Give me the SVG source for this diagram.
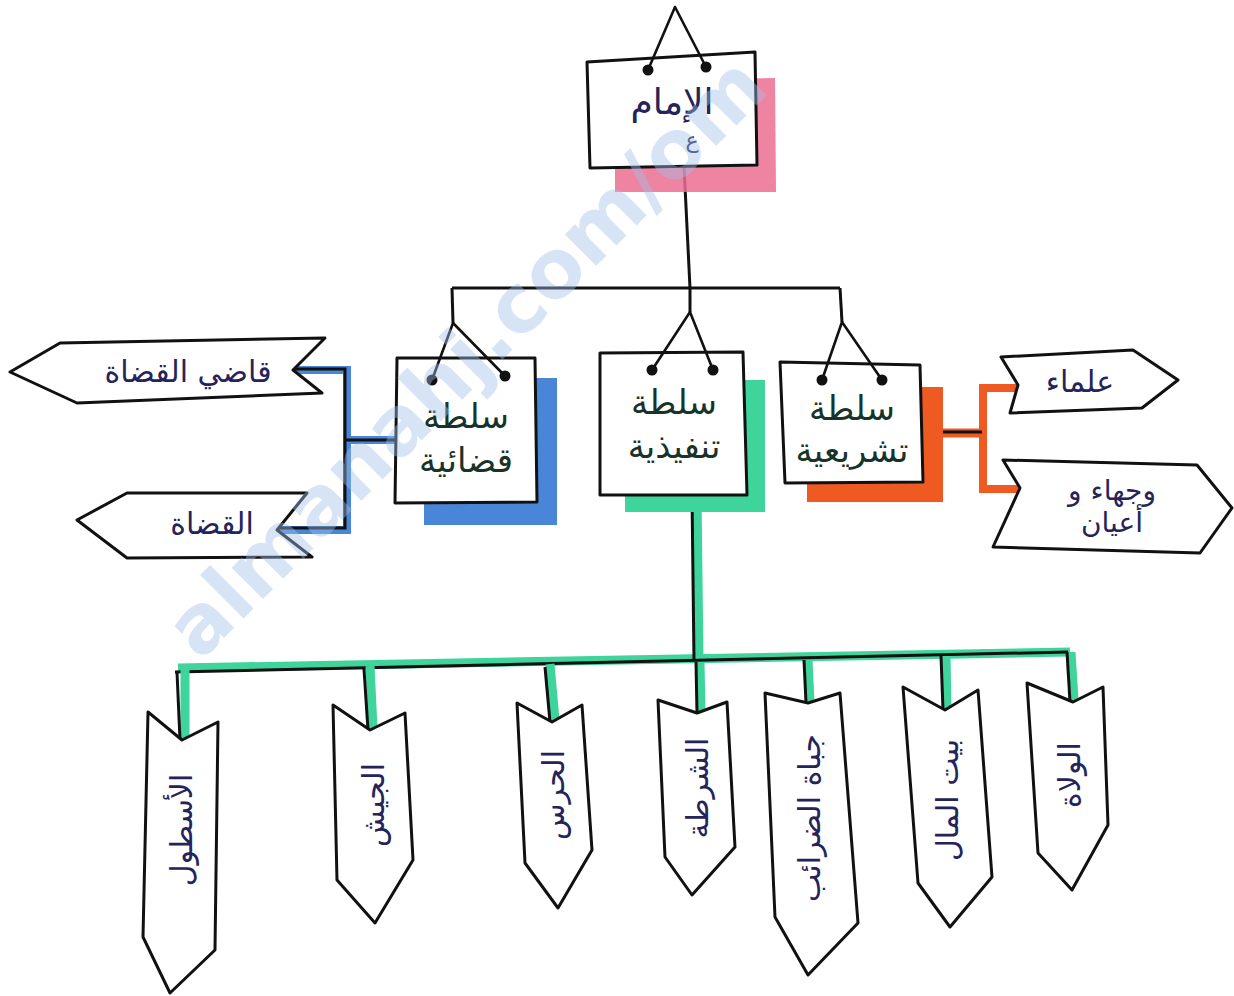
<svg xmlns="http://www.w3.org/2000/svg" width="1234" height="996" viewBox="0 0 1234 996">
<style>
.box{fill:#fff;stroke:#111;stroke-width:3;stroke-linejoin:round}
.tag{fill:#fff;stroke:#111;stroke-width:3;stroke-linejoin:round}
.hang{fill:none;stroke:#111;stroke-width:2.6;stroke-linejoin:round}
.dot{fill:#111}
.ln{fill:none;stroke:#111;stroke-width:3}
.lbl{font-family:"DejaVu Sans",sans-serif;fill:#24245a;text-anchor:middle}
.auth{font-family:"DejaVu Sans",sans-serif;fill:#17332a;text-anchor:middle;font-size:34px}
.wm{font-family:"DejaVu Sans",sans-serif;font-weight:bold;fill:#9fc0ea;opacity:0.42}
</style>
<rect width="1234" height="996" fill="#fff"/>

<g id="connectors">
  <polyline class="ln" points="684,166 690,288"/>
  <polyline class="ln" points="452,288 840,288"/>
  <polyline class="ln" points="452,288 453,323"/>
  <polyline class="ln" points="690,288 690,312"/>
  <polyline class="ln" points="840,288 842,322"/>
  <!-- blue bracket -->
  <polyline fill="none" stroke="#4a86d8" stroke-width="8" points="293,370 347,370 347,530 277,530"/>
  <polyline fill="none" stroke="#4a86d8" stroke-width="8" points="347,440 396,440"/>
  <polyline class="ln" stroke-width="2.4" points="293,369 345,369 345,528 277,528"/>
  <polyline class="ln" stroke-width="2.4" points="345,440 396,440"/>
  <!-- orange bracket -->
  <polyline fill="none" stroke="#ee5a22" stroke-width="8" points="1017,388 983,388 983,489 1018,489"/>
  <polyline fill="none" stroke="#ee5a22" stroke-width="9" points="923,433 983,433"/>
  <polyline class="ln" stroke-width="2.4" points="923,432 982,432"/>
  <!-- green tree -->
  <polyline fill="none" stroke="#3fd49b" stroke-width="9" points="697,495 699,660"/>
  <polyline fill="none" stroke="#3fd49b" stroke-width="9" points="178,668 1070,652"/>
  <polyline class="ln" points="692,495 694,660"/>
  <polyline class="ln" points="175,672 1068,652"/>
  <g fill="none" stroke="#3fd49b" stroke-width="9">
    <polyline points="185,668 185,738"/>
    <polyline points="370,666 373,728"/>
    <polyline points="550,664 555,720"/>
    <polyline points="700,662 701,712"/>
    <polyline points="808,660 810,702"/>
    <polyline points="946,656 947,708"/>
    <polyline points="1071,652 1074,700"/>
  </g>
  <g class="ln">
    <polyline points="177,672 180,740"/>
    <polyline points="364,669 368,730"/>
    <polyline points="545,667 550,722"/>
    <polyline points="696,662 697,713"/>
    <polyline points="804,660 806,703"/>
    <polyline points="941,656 943,710"/>
    <polyline points="1067,652 1070,702"/>
  </g>
</g>

<g id="imam">
  <polygon points="615,80 775,78 776,192 615,192" fill="#ec6f92" opacity="0.85"/>
  <polygon class="box" points="587,62 755,52 757,165 590,168"/>
  <polyline class="hang" points="648,70 675,7 706,67"/>
  <circle class="dot" cx="648" cy="70" r="5.5"/>
  <circle class="dot" cx="706" cy="67" r="5.5"/>
  <text class="lbl" x="672" y="114" font-size="36">الإمام</text>
  <text class="lbl" x="692" y="148" font-size="22">ع</text>
</g>

<g id="judicial">
  <polygon points="424,378 557,378 557,525 424,525" fill="#4a86d8"/>
  <polygon class="box" points="397,358 535,358 537,502 395,503"/>
  <polyline class="hang" points="432,380 453,323 505,376"/>
  <circle class="dot" cx="432" cy="380" r="5.5"/>
  <circle class="dot" cx="505" cy="376" r="5.5"/>
  <text class="auth" x="466" y="428">سلطة</text>
  <text class="auth" x="466" y="472">قضائية</text>
</g>

<g id="executive">
  <polygon points="625,380 765,380 765,512 625,512" fill="#3fd49b"/>
  <polygon class="box" points="600,353 743,352 747,495 600,495"/>
  <polyline class="hang" points="652,370 690,312 713,370"/>
  <circle class="dot" cx="652" cy="370" r="5.5"/>
  <circle class="dot" cx="713" cy="370" r="5.5"/>
  <text class="auth" x="674" y="414">سلطة</text>
  <text class="auth" x="674" y="458">تنفيذية</text>
</g>

<g id="legislative">
  <polygon points="807,387 943,387 943,502 807,502" fill="#ee5a22"/>
  <polygon class="box" points="780,362 920,365 923,482 785,483"/>
  <polyline class="hang" points="822,380 842,322 882,380"/>
  <circle class="dot" cx="822" cy="380" r="5.5"/>
  <circle class="dot" cx="882" cy="380" r="5.5"/>
  <text class="auth" x="852" y="420">سلطة</text>
  <text class="auth" x="852" y="462">تشريعية</text>
</g>

<g id="chief-judge">
  <polygon class="tag" points="60,343 325,338 293,370 322,393 77,403 10,372"/>
  <text class="lbl" x="188" y="382" font-size="30">قاضي القضاة</text>
</g>
<g id="judges">
  <polygon class="tag" points="127,493 307,493 277,530 312,557 127,558 77,520"/>
  <text class="lbl" x="212" y="534" font-size="30">القضاة</text>
</g>

<g id="scholars">
  <polygon class="tag" points="1001,357 1133,350 1178,380 1142,408 1010,413 1018,385"/>
  <text class="lbl" x="1080" y="392" font-size="30">علماء</text>
</g>
<g id="notables">
  <polygon class="tag" points="1003,460 1197,465 1232,508 1200,553 993,547 1020,488"/>
  <text class="lbl" x="1112" y="500" font-size="28">وجهاء و</text>
  <text class="lbl" x="1112" y="532" font-size="28">أعيان</text>
</g>

<g id="fleet">
  <polygon class="tag" points="148,712 182,740 218,722 215,950 170,993 143,937"/>
  <text class="lbl" font-size="30" transform="translate(192,830) rotate(-90)">الأسطول</text>
</g>
<g id="army">
  <polygon class="tag" points="333,705 370,730 405,713 413,860 375,923 337,880"/>
  <text class="lbl" font-size="30" transform="translate(384,805) rotate(-90)">الجيش</text>
</g>
<g id="guard">
  <polygon class="tag" points="517,703 552,722 582,705 592,850 558,908 525,863"/>
  <text class="lbl" font-size="30" transform="translate(564,795) rotate(-90)">الحرس</text>
</g>
<g id="police">
  <polygon class="tag" points="658,700 697,713 727,702 735,847 692,895 665,857"/>
  <text class="lbl" font-size="30" transform="translate(708,788) rotate(-90)">الشرطة</text>
</g>
<g id="tax-collectors">
  <polygon class="tag" points="765,693 808,703 840,693 858,923 808,975 775,917"/>
  <text class="lbl" font-size="30" transform="translate(820,818) rotate(-90)">جباة الضرائب</text>
</g>
<g id="treasury">
  <polygon class="tag" points="903,687 945,710 978,690 992,877 950,927 918,883"/>
  <text class="lbl" font-size="30" transform="translate(958,800) rotate(-90)">بيت المال</text>
</g>
<g id="governors">
  <polygon class="tag" points="1027,683 1073,702 1103,687 1108,825 1072,890 1038,853"/>
  <text class="lbl" font-size="30" transform="translate(1080,775) rotate(-90)">الولاة</text>
</g>

<text class="wm" font-size="81" transform="translate(200,662) rotate(-45)">almanahj.com/om</text>
</svg>
